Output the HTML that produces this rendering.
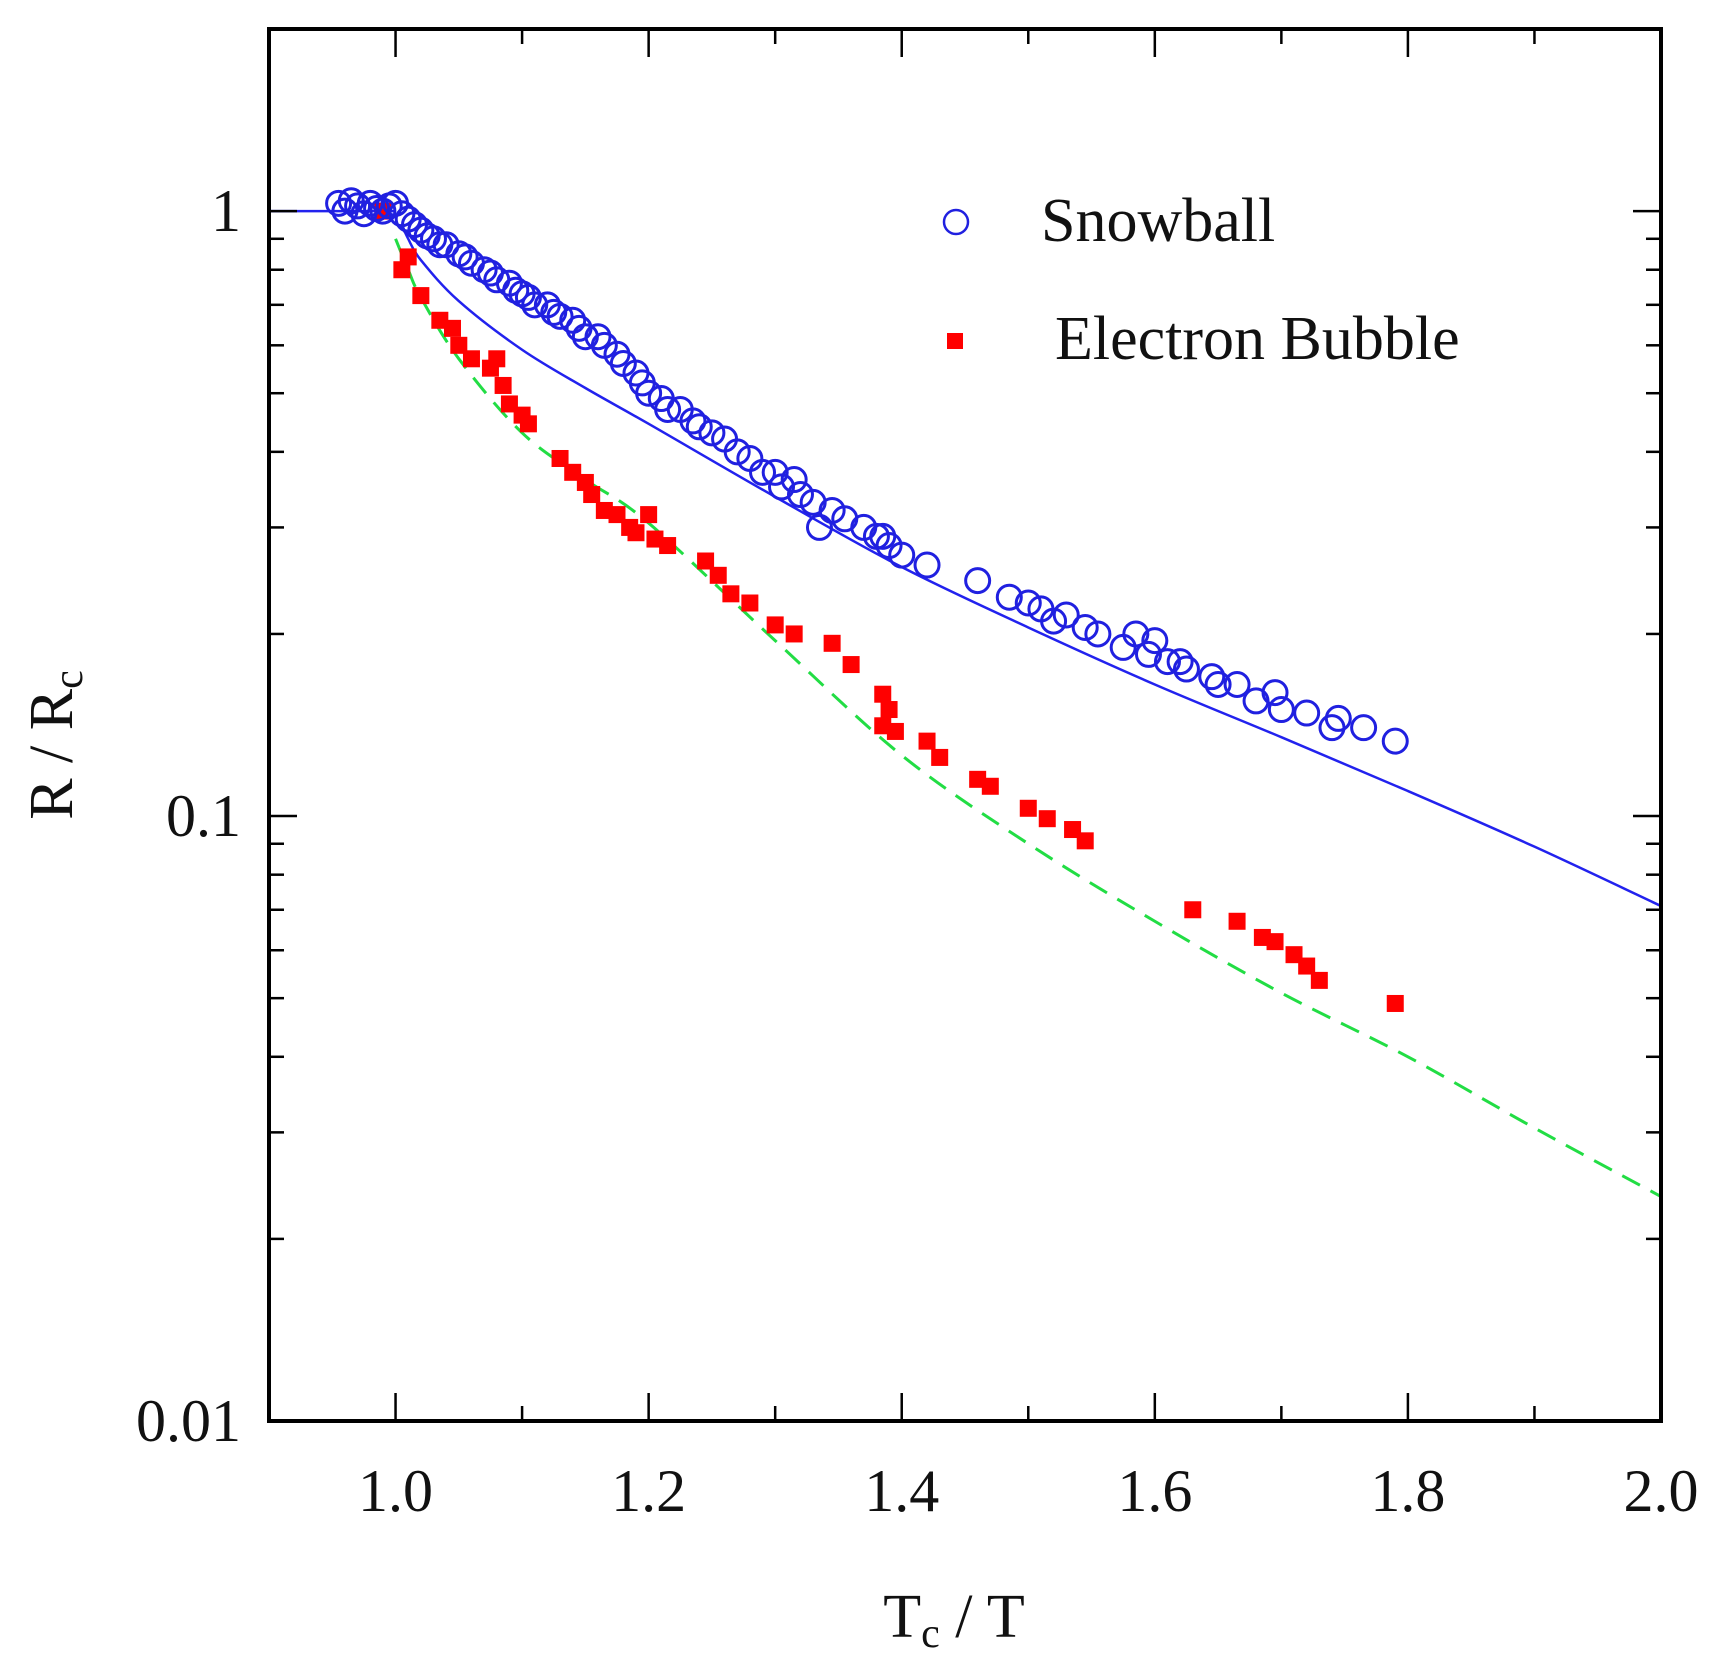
<!DOCTYPE html>
<html><head><meta charset="utf-8"><style>
html,body{margin:0;padding:0;background:#fff;}
svg{display:block;}
text{font-family:"Liberation Serif",serif;fill:#111;}
</style></head><body>
<svg id="chart" width="1719" height="1673" viewBox="0 0 1719 1673" xmlns="http://www.w3.org/2000/svg">
<g id="marks"></g>
<g id="axes"></g>
</svg>
<script>
const snowX=[0.955,0.96,0.965,0.97,0.975,0.98,0.985,0.99,0.995,1.0,1.005,1.01,1.015,1.02,1.025,1.03,1.035,1.04,1.05,1.055,1.06,1.07,1.075,1.08,1.09,1.095,1.1,1.105,1.11,1.12,1.125,1.13,1.14,1.145,1.15,1.16,1.165,1.175,1.18,1.19,1.195,1.2,1.21,1.215,1.225,1.235,1.24,1.25,1.26,1.27,1.28,1.29,1.3,1.305,1.315,1.32,1.33,1.335,1.345,1.355,1.37,1.38,1.385,1.39,1.4,1.42,1.46,1.485,1.5,1.51,1.52,1.53,1.545,1.555,1.575,1.585,1.595,1.6,1.61,1.62,1.625,1.645,1.65,1.665,1.68,1.695,1.7,1.72,1.74,1.745,1.765,1.79];
const snowY=[1.03,1.0,1.04,1.02,0.99,1.03,1.01,1.0,1.02,1.03,0.99,0.97,0.95,0.93,0.91,0.9,0.88,0.88,0.85,0.84,0.82,0.8,0.79,0.77,0.76,0.74,0.73,0.72,0.7,0.7,0.68,0.67,0.66,0.64,0.62,0.62,0.6,0.58,0.56,0.54,0.52,0.5,0.49,0.47,0.47,0.45,0.44,0.43,0.42,0.4,0.39,0.37,0.37,0.35,0.36,0.34,0.33,0.3,0.32,0.31,0.3,0.29,0.29,0.28,0.27,0.26,0.245,0.23,0.225,0.22,0.21,0.215,0.205,0.2,0.19,0.2,0.185,0.195,0.18,0.18,0.175,0.17,0.165,0.165,0.155,0.16,0.15,0.148,0.14,0.145,0.14,0.133];
const bubX=[0.99,1.005,1.01,1.02,1.035,1.045,1.05,1.06,1.075,1.08,1.085,1.09,1.1,1.105,1.13,1.14,1.15,1.155,1.165,1.175,1.185,1.19,1.2,1.205,1.215,1.245,1.255,1.265,1.28,1.3,1.315,1.345,1.36,1.385,1.39,1.385,1.395,1.42,1.43,1.46,1.47,1.5,1.515,1.535,1.545,1.63,1.665,1.685,1.695,1.71,1.72,1.73,1.79];
const bubY=[1.0,0.8,0.84,0.725,0.66,0.64,0.6,0.57,0.55,0.57,0.515,0.48,0.46,0.445,0.39,0.37,0.356,0.34,0.32,0.315,0.3,0.294,0.315,0.287,0.28,0.264,0.25,0.233,0.225,0.207,0.2,0.193,0.178,0.159,0.15,0.141,0.138,0.133,0.125,0.115,0.112,0.103,0.099,0.095,0.091,0.07,0.067,0.063,0.062,0.059,0.0565,0.0535,0.049];
const fitX=[1.005,1.01,1.02,1.05,1.1,1.15,1.2,1.3,1.4,1.5,1.6,1.7,1.8,1.9,2.0];
const fitY=[0.95,0.9,0.83,0.71,0.59,0.51,0.445,0.337,0.258,0.205,0.165,0.135,0.11,0.089,0.071];
const flatX=[0.9,1.0];
const flatY=[1.0,1.0];
const dashX=[1.0,1.01,1.02,1.05,1.1,1.15,1.2,1.3,1.4,1.5,1.6,1.7,1.8,1.9,2.0];
const dashY=[0.9,0.8,0.72,0.57,0.43,0.36,0.305,0.195,0.126,0.09,0.067,0.051,0.040,0.0305,0.0235];
const xTicks=[1.0,1.2,1.4,1.6,1.8,2.0];
const xTickLabels=["1.0","1.2","1.4","1.6","1.8","2.0"];
const yTicks=[1,0.1,0.01];
const yTickLabels=["1","0.1","0.01"];

const L=269,R=1661,T=29,B=1421;
const xmin=0.9,xmax=2.0,ymin=0.01,ymax=2;
const sx=v=>L+(v-xmin)/(xmax-xmin)*(R-L);
const sy=v=>B-(Math.log10(v)-Math.log10(ymin))/(Math.log10(ymax)-Math.log10(ymin))*(B-T);
const NS="http://www.w3.org/2000/svg";
const marks=document.getElementById('marks'),axes=document.getElementById('axes');
function mk(tag,attrs,parent){const e=document.createElementNS(NS,tag);for(const k in attrs)e.setAttribute(k,attrs[k]);parent.appendChild(e);return e;}
function spline(xs,ys){const P=xs.map((x,i)=>[sx(x),sy(ys[i])]);let d='M'+P[0][0]+','+P[0][1];
 for(let i=0;i<P.length-1;i++){const p0=P[Math.max(0,i-1)],p1=P[i],p2=P[i+1],p3=P[Math.min(P.length-1,i+2)];
 const c1=[p1[0]+(p2[0]-p0[0])/6,p1[1]+(p2[1]-p0[1])/6],c2=[p2[0]-(p3[0]-p1[0])/6,p2[1]-(p3[1]-p1[1])/6];
 d+=' C'+c1.join(',')+' '+c2.join(',')+' '+p2.join(',');}return d;}

let p=mk('path',{d:spline(flatX,flatY),fill:'none',stroke:'#2222ee','stroke-width':2.5},marks);


p=mk('path',{d:spline(fitX,fitY),fill:'none',stroke:'#2222ee','stroke-width':2.5},marks);


p=mk('path',{d:spline(dashX,dashY),fill:'none',stroke:'#22dd44','stroke-width':3,'stroke-dasharray':'20,12'},marks);


bubX.forEach((x,i)=>{const s=mk('rect',{x:sx(x)-8.5,y:sy(bubY[i])-8.5,width:17,height:17,fill:'#ff0000'},marks);

});
snowX.forEach((x,i)=>{const c=mk('circle',{cx:sx(x),cy:sy(snowY[i]),r:12,fill:'none',stroke:'#2020e0','stroke-width':3},marks);

});

let f=mk('rect',{x:L,y:T,width:R-L,height:B-T,fill:'none',stroke:'#000','stroke-width':4},axes);


for(let k=10;k<=20;k++){const v=k/10;const major=k%2===0;const len=major?28:15;
 mk('line',{x1:sx(v),x2:sx(v),y1:B,y2:B-len,stroke:'#000','stroke-width':2.5},axes);
 mk('line',{x1:sx(v),x2:sx(v),y1:T,y2:T+len,stroke:'#000','stroke-width':2.5},axes);}
xTicks.forEach((v,i)=>{const t=mk('text',{x:sx(v),y:1511,'font-size':60,'text-anchor':'middle'},axes);t.textContent=xTickLabels[i];

});
for(let d=-2;d<=0;d++){for(let m=1;m<=9;m++){const v=m*Math.pow(10,d);if(v<ymin||v>ymax)continue;const len=m===1?28:15;
 mk('line',{x1:L,x2:L+len,y1:sy(v),y2:sy(v),stroke:'#000','stroke-width':2.5},axes);
 mk('line',{x1:R,x2:R-len,y1:sy(v),y2:sy(v),stroke:'#000','stroke-width':2.5},axes);}}
mk('line',{x1:L,x2:L+15,y1:sy(2),y2:sy(2),stroke:'#000','stroke-width':2.5},axes);
yTicks.forEach((v,i)=>{const t=mk('text',{x:241,y:sy(v)+20,'font-size':60,'text-anchor':'end'},axes);t.textContent=yTickLabels[i];

});
</script>
<svg style="position:absolute;left:0;top:0" width="1719" height="1673">
<text x="954" y="1637" font-size="62" text-anchor="middle" style="font-family:'Liberation Serif',serif">T<tspan font-size="42" dy="10">c</tspan><tspan dy="-10"> / T</tspan></text>
<text transform="translate(72,745) rotate(-90)" font-size="62" text-anchor="middle" style="font-family:'Liberation Serif',serif">R / R<tspan font-size="42" dy="10">c</tspan></text>
<g>
<circle cx="956" cy="222" r="12" fill="none" stroke="#2020e0" stroke-width="2.5"/>
<text x="1041" y="241" font-size="62" style="font-family:'Liberation Serif',serif">Snowball</text>
<rect x="947" y="333" width="16" height="16" fill="#ff0000"/>
<text x="1055" y="359" font-size="62" style="font-family:'Liberation Serif',serif">Electron Bubble</text>
</g>
</svg>
</body></html>
